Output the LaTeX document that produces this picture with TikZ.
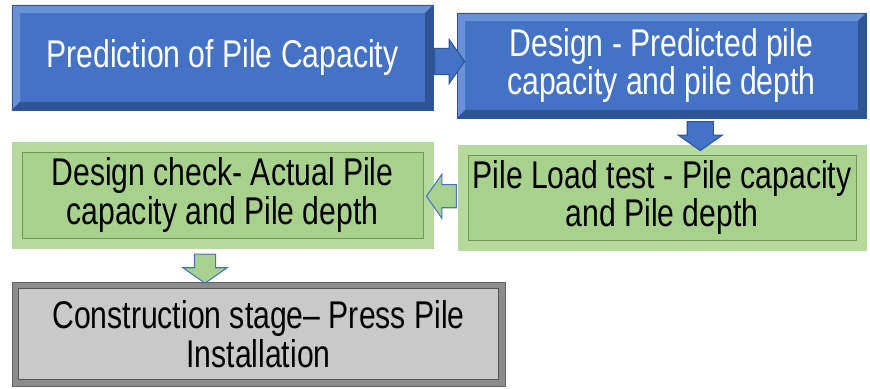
\documentclass[tikz,border=0pt]{standalone}
\usepackage{fontspec}
\setmainfont[FakeStretch=0.78]{Liberation Sans}
\usetikzlibrary{shapes.arrows,calc}
\definecolor{boxblue}{HTML}{4472C4}
\definecolor{bluedark}{HTML}{2F5597}
\definecolor{bluelight}{HTML}{6A90D6}
\definecolor{boxgreen}{HTML}{A9D18E}
\definecolor{greenlight}{HTML}{B6DA9D}
\definecolor{greenedge}{HTML}{6E9A52}
\definecolor{boxgrey}{HTML}{C9C9C9}
\definecolor{greyedge}{HTML}{8C8C8C}
\tikzset{
  stagebox/.style={rectangle,align=center,inner sep=0pt,font=\fontsize{22}{22}\selectfont},
  % raised edge: light band top/left, dark band bottom/right
  bevel/.style n args={3}{path picture={
    \path (path picture bounding box.north west) coordinate (bnw)
          (path picture bounding box.north east) coordinate (bne)
          (path picture bounding box.south east) coordinate (bse)
          (path picture bounding box.south west) coordinate (bsw);
    \fill[#1] (bnw) -- (bne) -- ([shift={(-#3,-#3)}]bne) -- ([shift={(#3,-#3)}]bnw)
              -- ([shift={(#3,#3)}]bsw) -- (bsw) -- cycle;
    \fill[#2] (bse) -- (bne) -- ([shift={(-#3,-#3)}]bne) -- ([shift={(-#3,#3)}]bse)
              -- ([shift={(#3,#3)}]bsw) -- (bsw) -- cycle;
  }},
  % flat panel set inside the box
  panel/.style n args={3}{path picture={
    \filldraw[fill=#1,draw=#2,line width=0.5pt]
      ([shift={(#3,-#3)}]path picture bounding box.north west) rectangle
      ([shift={(-#3,#3)}]path picture bounding box.south east);
  }},
  bluebox/.style={stagebox,fill=boxblue,draw=bluedark,line width=0.4pt,text=white,
    bevel={bluelight}{bluedark}{0.16cm}},
  greenbox/.style={stagebox,fill=greenlight,draw=greenlight,text=black,
    panel={boxgreen}{greenedge}{0.2cm}},
  greybox/.style={stagebox,fill=greyedge,draw=greyedge!70!black,text=black,
    panel={boxgrey}{greyedge!60!black}{0.13cm}},
  blockarrow/.style={single arrow,inner sep=0pt,single arrow tip angle=110,line width=0.6pt},
  % shaft width from the empty text box: height+depth across, or width when turned
  across/.style={text height=#1/2,text depth=#1/2},
  along/.style={text width=#1,text height=0pt,text depth=0pt},
  bluearrow/.style={blockarrow,fill=boxblue,draw=bluedark},
  greenarrow/.style={blockarrow,fill=boxgreen,draw=boxblue}
}
\begin{document}
\begin{tikzpicture}
\useasboundingbox (0,0) rectangle (17.4,7.76);
% stages
\node[bluebox,minimum width=8.42cm,minimum height=2.1cm] (pred) at (4.45,6.61) {Prediction of Pile Capacity};
\node[bluebox,minimum width=8.18cm,minimum height=2.1cm] (design) at (13.23,6.45) {Design - Predicted pile\\capacity and pile depth};
\node[greenbox,minimum width=8.16cm,minimum height=2.1cm] (loadtest) at (13.24,3.81) {Pile Load test - Pile capacity\\and Pile depth};
\node[greenbox,minimum width=8.42cm,minimum height=2.12cm] (check) at (4.45,3.86) {Design check- Actual Pile\\capacity and Pile depth};
\node[greybox,minimum width=9.86cm,minimum height=2.08cm] (install) at (5.17,1.08) {Construction stage-- Press Pile\\Installation};
% block arrows between stages
\node[bluearrow,across=0.5cm,single arrow head extend=0.18cm,minimum height=0.6cm] (predtodesign) at ($(pred.east)!0.5!(design.west)$) {};
\node[bluearrow,along=0.5cm,single arrow head extend=0.18cm,shape border rotate=270,minimum height=0.58cm] (designtotest) at ($(design.south)!0.5!(loadtest.north)+(0.77,0)$) {};
\node[greenarrow,across=0.44cm,single arrow head extend=0.21cm,shape border rotate=180,minimum height=0.6cm] (testtocheck) at ($(loadtest.west)!0.5!(check.east)$) {};
\node[greenarrow,along=0.4cm,single arrow head extend=0.23cm,shape border rotate=270,minimum height=0.58cm] (checktoinstall) at ($(check.south)!0.5!(install.north)+(-0.71,0)$) {};
\end{tikzpicture}
\end{document}
